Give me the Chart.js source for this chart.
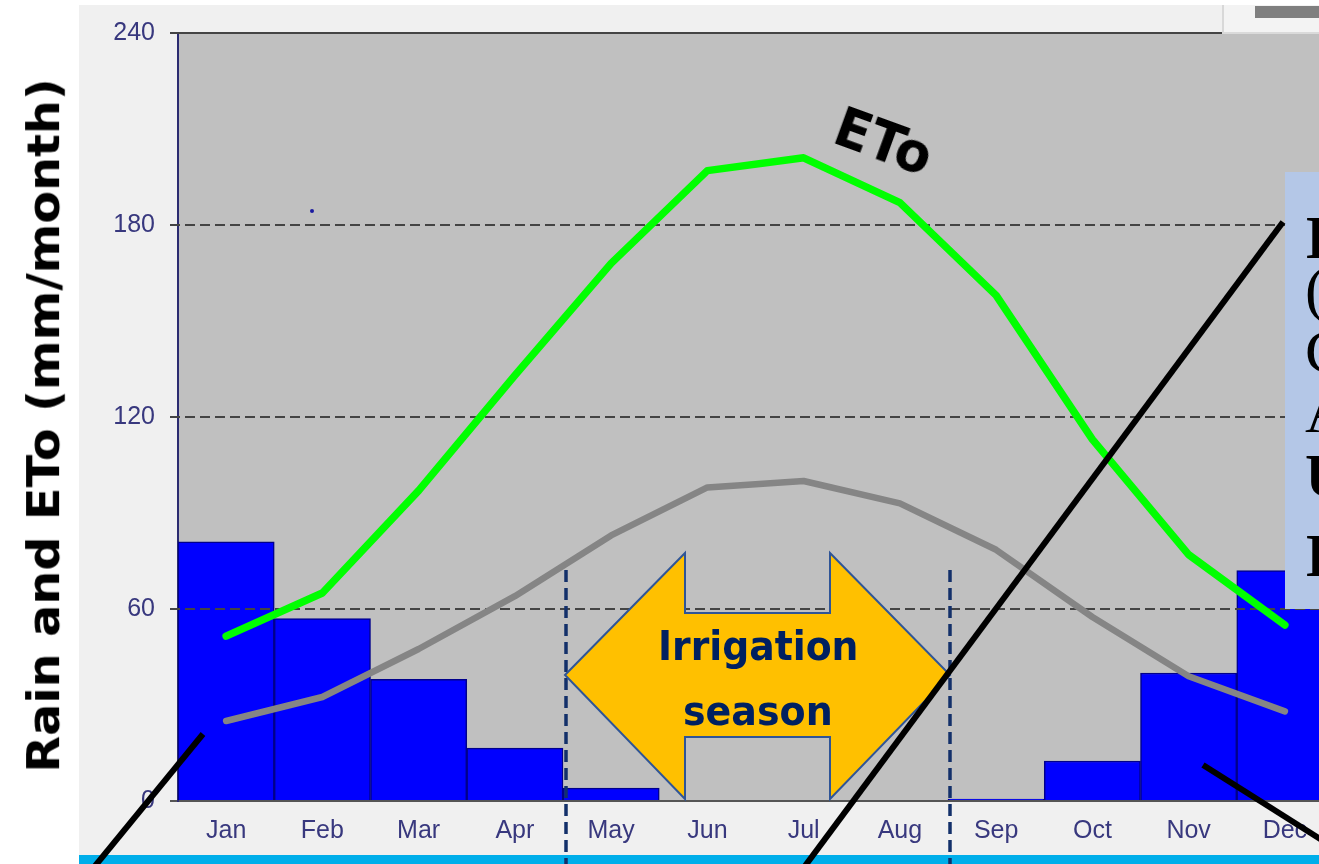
<!DOCTYPE html>
<html><head><meta charset="utf-8">
<script src="https://cdn.jsdelivr.net/npm/chart.js@4/dist/chart.umd.min.js"></script>
<style>
html,body{margin:0;padding:0;width:1319px;height:864px;overflow:hidden;background:#fff;position:relative;}
#shot{position:absolute;left:79px;top:5px;width:1240px;height:850px;background:#f0f0f0;}
#band{position:absolute;left:79px;top:855px;width:1240px;height:9px;background:#00aeea;}
#c{position:absolute;left:0;top:0;}
#win{position:absolute;left:1222px;top:5px;width:97px;height:27px;background:#f3f3f3;border-left:2px solid #d8d8d8;border-bottom:2px solid #dadada;}
#win div{position:absolute;left:31px;top:1px;width:64px;height:12px;background:#7f7f7f;}
#ov{position:absolute;left:0;top:0;}
.t{position:absolute;white-space:nowrap;line-height:1;}
#ytitle{font-family:"DejaVu Sans",sans-serif;font-weight:bold;font-size:45px;color:#000;}
#eto{font-family:"DejaVu Sans",sans-serif;font-weight:bold;font-size:56px;color:#000;}
.irr{font-family:"DejaVu Sans",sans-serif;font-weight:bold;font-size:40px;color:#002060;}
#box{position:absolute;left:1285px;top:172px;width:60px;height:437px;background:#b4c7e7;}
.bx{position:absolute;left:1305px;font-family:"Liberation Serif",serif;font-size:62px;line-height:62px;color:#000;white-space:nowrap;}
#dot{position:absolute;left:310px;top:209px;width:4px;height:4px;border-radius:2px;background:#1a1aa0;}
</style></head>
<body>
<div id="shot"></div>
<div id="band"></div>
<canvas id="c" width="1340" height="864"></canvas>
<div id="win"><div></div></div>
<div id="dot"></div>
<div id="box"></div>
<div class="bx" style="top:206px;font-weight:bold;">I</div>
<div class="bx" style="top:258px;">(</div>
<div class="bx" style="top:320px;">C</div>
<div class="bx" style="top:380px;">A</div>
<div class="bx" style="top:444px;font-weight:bold;">U</div>
<div class="bx" style="top:524px;font-weight:bold;">I</div>
<svg id="ov" width="1319" height="864">
  <line x1="566" y1="570" x2="566" y2="864" stroke="#13306a" stroke-width="3.5" stroke-dasharray="12,6"/>
  <line x1="950" y1="570" x2="950" y2="864" stroke="#13306a" stroke-width="3.5" stroke-dasharray="12,6"/>
  <polygon points="565,675 685,553 685,613 830,613 830,553 950,675 830,799 830,737 685,737 685,799" fill="#ffc000" stroke="#2f5597" stroke-width="2"/>
  <line x1="95" y1="866" x2="203" y2="734" stroke="#000" stroke-width="6"/>
  <line x1="805" y1="866" x2="1283" y2="222" stroke="#000" stroke-width="6"/>
  <line x1="1203" y1="765" x2="1325" y2="842" stroke="#000" stroke-width="6"/>
</svg>
<div class="t" id="ytitle">Rain and ETo (mm/month)</div>
<div class="t" id="eto">ETo</div>
<div class="t irr" id="irr1">Irrigation</div>
<div class="t irr" id="irr2">season</div>
<script>
// ---- data ----
const months = ['Jan','Feb','Mar','Apr','May','Jun','Jul','Aug','Sep','Oct','Nov','Dec'];
const rain = [81, 57, 38, 16.5, 4, 0, 0, 0, 0.6, 12.5, 40, 72];
const eto = [51.5, 65, 97, 133, 168, 197, 201, 187, 158, 113, 77, 55];
const etoHalf = [25, 32.5, 47.5, 64, 83, 98, 100, 93, 78.5, 57.5, 39, 28];
const yTicks = [0, 60, 120, 180, 240];

const tickColor = '#38387e';
const tickFont = {family:'"Liberation Sans", Arial, sans-serif', size:25};

const plotBg = {
  id:'plotBg',
  beforeDraw(chart){
    const {ctx, chartArea:a} = chart;
    ctx.save(); ctx.fillStyle = '#c0c0c0';
    ctx.fillRect(a.left, a.top, a.right - a.left, a.bottom - a.top);
    ctx.restore();
  },
  afterDatasetDraw(chart, args){
    if (args.index !== 0) return;
    const {ctx, chartArea:a} = chart; const y = chart.scales.y;
    ctx.save();
    ctx.lineWidth = 2; ctx.strokeStyle = '#444';
    y.ticks.forEach(t => {
      if (t.value === 0) return;
      const py = Math.round(y.getPixelForValue(t.value));
      ctx.setLineDash(t.value === y.max ? [] : [10,5]);
      ctx.beginPath(); ctx.moveTo(a.left - 8, py); ctx.lineTo(a.right, py); ctx.stroke();
    });
    ctx.restore();
  }
};

new Chart(document.getElementById('c'), {
  type:'bar',
  data:{
    labels: months,
    datasets:[
      {type:'bar', label:'Rain', data:rain, backgroundColor:'#0000ff', borderColor:'#00008b', borderWidth:1.5,
       categoryPercentage:1, barPercentage:1, order:3},
      {type:'line', label:'ETo', data:eto, borderColor:'#00ff00', borderWidth:7.5, pointRadius:0,
       tension:0, borderCapStyle:'round', borderJoinStyle:'round', order:1},
      {type:'line', label:'0.5 ETo', data:etoHalf, borderColor:'#858585', borderWidth:6.5, pointRadius:0,
       tension:0, borderCapStyle:'round', borderJoinStyle:'round', order:2}
    ]
  },
  options:{
    responsive:false, devicePixelRatio:1, animation:false,
    layout:{padding:{left:0, top:33, right:7, bottom:0}},
    plugins:{legend:{display:false}, tooltip:{enabled:false}},
    scales:{
      x:{
        ticks:{color:tickColor, font:tickFont, padding:15, maxRotation:0, autoSkip:false},
        grid:{display:false, drawTicks:false},
        border:{color:'#555', width:2},
        afterFit(s){ s.height = 63; }
      },
      y:{
        min:0, max:240,
        afterBuildTicks(s){ s.ticks = yTicks.map(v => ({value:v})); },
        ticks:{color:tickColor, font:tickFont, padding:15},
        grid:{drawOnChartArea:false, drawTicks:true, tickLength:8, color:'#555', lineWidth:2},
        border:{color:'#2b2b70', width:2},
        afterFit(s){ s.width = 178; }
      }
    }
  },
  plugins:[plotBg]
});

function place(id, cx, cy, targetW, rot){
  const el = document.getElementById(id);
  const w = el.offsetWidth, h = el.offsetHeight;
  el.style.left = (cx - w/2) + 'px';
  el.style.top = (cy - h/2) + 'px';
  const s = targetW / w;
  el.style.transformOrigin = '50% 50%';
  el.style.transform = 'rotate(' + rot + 'deg) scaleX(' + s + ')';
}
place('ytitle', 43, 425, 694, -90);
place('eto', 884, 141, 100, 20);
place('irr1', 758, 646, 200, 0);
place('irr2', 758, 711, 150, 0);
</script>
</body></html>
